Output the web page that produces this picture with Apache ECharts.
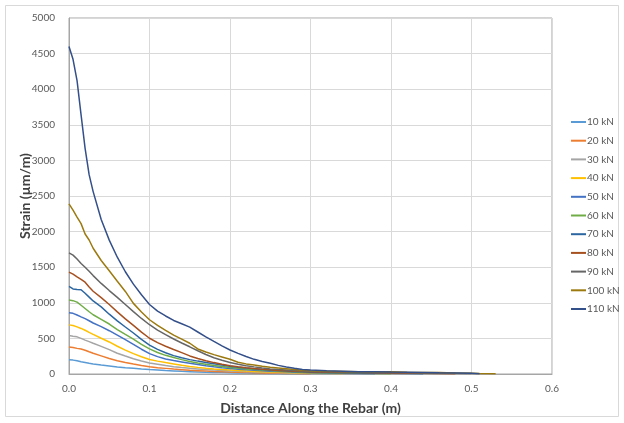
<!DOCTYPE html>
<html>
<head>
<meta charset="utf-8">
<script src="https://cdn.jsdelivr.net/npm/echarts@6/dist/echarts.min.js"></script>
<style>
  html, body { margin: 0; padding: 0; background: #fff; }
  #main { width: 624px; height: 423px; }
</style>
</head>
<body>
<div id="main"></div>
<script>
// distance along the rebar (m), shared by all load steps
var distances = [0, 0.005, 0.01, 0.015, 0.02, 0.025, 0.03, 0.04, 0.05, 0.06, 0.07, 0.08, 0.09,
  0.10, 0.11, 0.12, 0.13, 0.14, 0.15, 0.16, 0.17, 0.18, 0.19, 0.20, 0.21, 0.22, 0.23, 0.24,
  0.25, 0.26, 0.27, 0.28, 0.29, 0.30, 0.32, 0.34, 0.36, 0.38, 0.40, 0.42, 0.44, 0.46, 0.48,
  0.50, 0.51, 0.53];

var loads = ['10 kN', '20 kN', '30 kN', '40 kN', '50 kN', '60 kN', '70 kN', '80 kN', '90 kN', '100 kN', '110 kN'];

// strain (µm/m)
var strain10 = [200, 195, 185, 172, 162, 150, 140, 125, 112, 97, 88, 80, 70, 62, 56, 49, 43, 37, 33,
  29, 25, 22, 20, 18, 15, 13, 10, 9, 8, 6, 5, 4, 3, 2];
var strain20 = [380, 372, 360, 350, 333, 312, 292, 255, 218, 186, 162, 140, 120, 102, 89, 79, 69,
  61, 53, 47, 41, 35, 31, 27, 24, 20, 18, 15, 12, 10, 8, 6, 5, 4];
var strain30 = [540, 530, 522, 500, 476, 455, 432, 388, 342, 292, 252, 215, 182, 154, 136, 118, 103,
  91, 80, 71, 62, 55, 48, 42, 37, 32, 28, 24, 20, 18, 15, 12, 10, 8];
var strain40 = [690, 682, 662, 640, 614, 584, 556, 502, 450, 390, 336, 286, 242, 204, 181, 160, 141,
  122, 106, 93, 81, 71, 62, 55, 48, 42, 36, 32, 28, 24, 20, 17, 14, 12, 9, 6];
var strain50 = [860, 852, 828, 802, 778, 748, 716, 666, 608, 546, 482, 416, 348, 286, 244, 212, 190,
  170, 150, 132, 116, 101, 88, 78, 68, 60, 52, 45, 40, 35, 30, 25, 20, 18, 14, 10, 8, 5];
var strain60 = [1040, 1030, 1010, 966, 920, 874, 832, 768, 702, 624, 556, 490, 416, 352, 302, 262,
  231, 202, 176, 156, 138, 121, 106, 92, 80, 70, 62, 55, 48, 42, 36, 30, 26, 22, 18, 14, 10, 8, 5];
var strain70 = [1230, 1195, 1186, 1184, 1134, 1080, 1026, 942, 840, 746, 660, 576, 486, 406, 346,
  298, 258, 228, 202, 181, 162, 145, 126, 110, 96, 83, 72, 63, 55, 48, 42, 36, 30, 26, 22, 18,
  15, 12, 10, 8, 5];
var strain80 = [1432, 1402, 1364, 1330, 1290, 1222, 1162, 1072, 976, 872, 774, 682, 588, 502, 440,
  390, 344, 300, 254, 218, 186, 160, 137, 116, 101, 88, 76, 66, 58, 50, 45, 40, 35, 30, 25, 22,
  20, 18, 15, 12, 10, 8, 5];
var strain90 = [1700, 1670, 1614, 1552, 1500, 1442, 1382, 1272, 1172, 1076, 976, 876, 780, 692, 616,
  552, 492, 436, 382, 326, 274, 228, 192, 162, 137, 116, 100, 85, 72, 62, 55, 48, 42, 38, 32,
  28, 25, 22, 20, 18, 15, 12, 10, 6];
var strain100 = [2390, 2302, 2204, 2112, 1966, 1882, 1766, 1594, 1450, 1302, 1160, 992, 872, 762,
  682, 612, 546, 490, 432, 352, 310, 272, 240, 208, 166, 142, 126, 110, 95, 85, 75, 62, 52, 45,
  40, 35, 30, 28, 30, 25, 22, 20, 15, 12, 8, 5];
var strain110 = [4600, 4420, 4120, 3640, 3170, 2800, 2562, 2170, 1880, 1640, 1436, 1262, 1112, 976,
  882, 815, 752, 705, 658, 590, 522, 458, 396, 337, 290, 246, 206, 175, 150, 121, 98, 80, 64, 55,
  45, 40, 33, 30, 27, 25, 22, 18, 15, 10, 3];

var strains = [strain10, strain20, strain30, strain40, strain50, strain60, strain70, strain80,
  strain90, strain100, strain110];

var colors = ['#5B9BD5', '#ED7D31', '#A5A5A5', '#FFC000', '#4472C4', '#70AD47',
  '#2C66A0', '#A65020', '#666666', '#9C7A10', '#34508A'];

var myChart = echarts.init(document.getElementById('main'));

var series = loads.map(function (name, i) {
  var pts = strains[i].map(function (v, j) { return [distances[j], v]; });
  return {
    name: name,
    type: 'line',
    symbol: 'none',
    data: pts,
    lineStyle: { color: colors[i], width: 1.5 },
    itemStyle: { color: colors[i] }
  };
});

var fontFam = 'Lato, "Liberation Sans", sans-serif';

var option = {
  animation: false,
  backgroundColor: '#fff',
  color: colors,
  graphic: [{
    type: 'rect',
    shape: { x: 5.5, y: 5.5, width: 613, height: 411 },
    style: { fill: 'none', stroke: '#d9d9d9', lineWidth: 1 },
    silent: true
  }],
  grid: {
    left: 69, right: 72, top: 18, bottom: 49,
    show: true, borderColor: '#a6a6a6', borderWidth: 1
  },
  legend: {
    orient: 'vertical',
    left: 571,
    top: 116,
    padding: 0,
    icon: 'rect',
    itemWidth: 15,
    itemHeight: 2,
    itemGap: 6.7,
    textStyle: { fontFamily: fontFam, fontSize: 10, lineHeight: 12, color: '#595959', padding: [0, 0, 0, -4] },
    data: loads
  },
  xAxis: {
    type: 'value',
    min: 0, max: 0.6, interval: 0.1,
    name: 'Distance Along the Rebar (m)',
    nameLocation: 'middle',
    nameGap: 27,
    nameTextStyle: { fontFamily: fontFam, fontSize: 14, fontWeight: 'bold', color: '#404040' },
    axisLine: { lineStyle: { color: '#a6a6a6' } },
    axisTick: { show: false },
    axisLabel: {
      margin: 10, fontFamily: fontFam, fontSize: 10, color: '#595959',
      formatter: function (v) { return v.toFixed(1); }
    },
    splitLine: { show: true, lineStyle: { color: '#d9d9d9' } }
  },
  yAxis: {
    type: 'value',
    min: 0, max: 5000, interval: 500,
    name: 'Strain (µm/m)',
    nameLocation: 'middle',
    nameGap: 37,
    nameMoveOverlap: false,
    nameTextStyle: { fontFamily: fontFam, fontSize: 14, fontWeight: 'bold', color: '#404040' },
    axisLine: { show: true, lineStyle: { color: '#a6a6a6' } },
    axisTick: { show: false },
    axisLabel: {
      margin: 14, fontFamily: fontFam, fontSize: 10, color: '#595959',
      formatter: function (v) { return String(v); }
    },
    splitLine: { show: true, lineStyle: { color: '#d9d9d9' } }
  },
  series: series
};

myChart.setOption(option);
</script>
</body>
</html>
